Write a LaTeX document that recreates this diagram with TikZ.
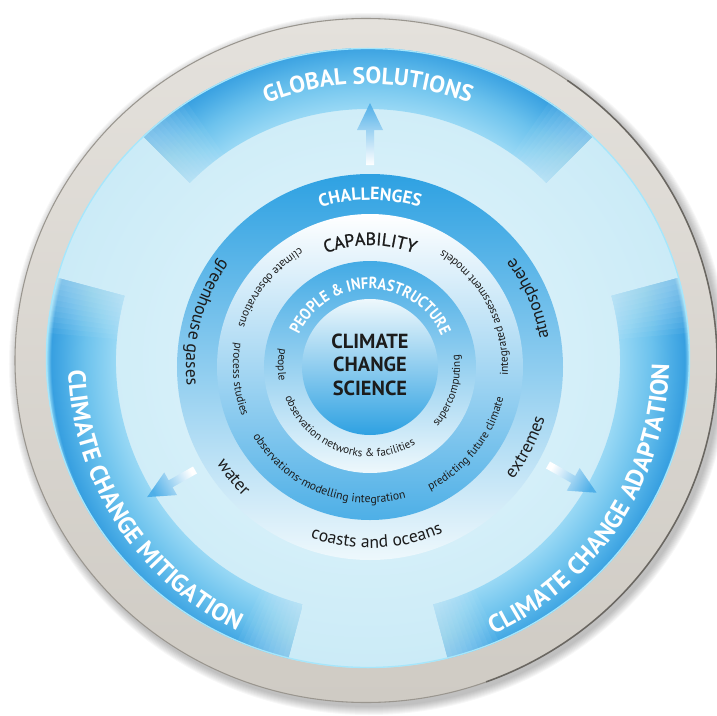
\documentclass[tikz,border=0pt]{standalone}
\usepackage{fontspec}
\setmainfont{PT Sans}
\newfontfamily\semibold[FakeBold=1.2]{PT Sans}
\newfontfamily\narrowbold[FakeStretch=0.88]{PT Sans Bold}
\usetikzlibrary{decorations.text}

% palette
\definecolor{rimlight}{HTML}{E4E1DC}
\definecolor{rimdark}{HTML}{CFCBC4}
\definecolor{rimedge}{HTML}{9A968F}
\definecolor{rimshade}{HTML}{55524D}
\definecolor{paleA}{HTML}{E4F6FC}
\definecolor{paleB}{HTML}{CBEBF7}
\definecolor{bandin}{HTML}{9AD9F5}
\definecolor{bandmid}{HTML}{6CC2ED}
\definecolor{bandout}{HTML}{48ABE5}
\definecolor{bandedge}{HTML}{379FE0}
\definecolor{bandglow}{HTML}{A6E6FB}
\definecolor{deepblue}{HTML}{2EA1E2}
\definecolor{midblue}{HTML}{7FC8EE}
\definecolor{softwhite}{HTML}{EEF8FC}
\definecolor{arrowblue}{HTML}{4FAFE8}
\definecolor{ink}{HTML}{1C1C1C}

% radial profile of the outer solution bands (25bp = outer edge)
\pgfdeclareradialshading{bandshade}{\pgfpoint{0bp}{0bp}}{%
  color(0bp)=(bandin); color(19.5bp)=(bandin); color(22bp)=(bandmid);
  color(23.7bp)=(bandout); color(24.6bp)=(bandedge); color(25bp)=(bandglow);
  color(50bp)=(bandglow)}

% text on a circular arc: centre angle, baseline radius, half span, format, text
\newcommand\ccwlabel[5]{%
  \path[decorate,decoration={text along path,text align=center,
      text format delimiters={|}{|},text={|#4|#5}}]
    ({#1-#3}:#2) arc[start angle={#1-#3},end angle={#1+#3},radius=#2];}
\newcommand\cwlabel[5]{%
  \path[decorate,decoration={text along path,text align=center,
      text format delimiters={|}{|},text={|#4|#5}}]
    ({#1+#3}:#2) arc[start angle={#1+#3},end angle={#1-#3},radius=#2];}

% annular sector of the solution bands
\newcommand\bandsector[2]{%
  ({#1}:252) arc[start angle={#1},end angle={#2},radius=252] --
  ({#2}:340) arc[start angle={#2},end angle={#1},radius=340] -- cycle}

% broad arrow: tail x, tail y, direction, length
\newcommand\flatarrow[4]{%
  \shade[top color=arrowblue,bottom color=white,shading angle={#3-90},
         shift={(#1,#2)},rotate=#3]
    (0,-4) -- ({#4-27},-4) -- ({#4-27},-13) -- (#4,0) --
    ({#4-27},13) -- ({#4-27},4) -- (0,4) -- cycle;}

\begin{document}
\begin{tikzpicture}[x=0.75pt,y=0.75pt]
\useasboundingbox (-368,-354) rectangle (349,361);

% soft drop shadow of the plate
\foreach \k in {1,...,9}
  \fill[black,opacity=0.03] (1,-3) ellipse [x radius={351+\k}, y radius={342+\k}];

% grey rim
\shade[top color=rimlight,bottom color=rimdark,draw=rimedge,line width=0.8pt]
  (-2,0.5) ellipse [x radius=351, y radius=342];
\draw[rimshade,opacity=0.7,line width=1.2pt]
  (-2,0.5) ++(55:351 and 342) arc[start angle=55,end angle=-70,x radius=351,y radius=342];

% pale inner disc
\shade[inner color=paleA,outer color=paleB]
  (0,3) ellipse [x radius=322, y radius=310];

% outer solution bands, lighter towards their ends
\begin{scope}
  \clip (0,3) ellipse [x radius=322, y radius=310];
  \foreach \a/\b in {45/135, 165/255, 285/375}{
    \begin{scope}
      \clip \bandsector{\a}{\b};
      \shade[shading=bandshade] (0,0) circle (322);
    \end{scope}
    \foreach \k in {1,...,10}{
      \fill[paleA,opacity=0.06] \bandsector{\a}{\a+\k};
      \fill[paleA,opacity=0.06] \bandsector{\b-\k}{\b};
    }
  }
\end{scope}
\draw[bandglow,line width=1pt] (0,3) ellipse [x radius=321.5, y radius=309.5];

% arrows towards the solutions
\flatarrow{2}{196}{90}{62}
\flatarrow{-173}{-109}{209.5}{55}
\flatarrow{180}{-104}{-29.7}{56}

% outer band titles
\cwlabel{90}{277}{70}{\color{white}\bfseries\fontsize{17.7}{20}\selectfont}{GLOBAL SOLUTIONS}
\ccwlabel{213}{300}{75}{\color{white}\bfseries\fontsize{18.4}{20}\selectfont}{CLIMATE CHANGE MITIGATION}
\ccwlabel{327}{301}{75}{\color{white}\bfseries\fontsize{18.6}{20}\selectfont}{CLIMATE CHANGE ADAPTATION}

% concentric rings around the core
\begin{scope}[shift={(2,-6)}]
\shade[top color=deepblue,middle color=midblue,bottom color=softwhite] (0,0) circle (193);
\shade[top color=white,middle color=softwhite!60!midblue,bottom color=deepblue!85!white] (0,0) circle (153);
\shade[top color=deepblue!90!white,middle color=midblue,bottom color=softwhite] (0,0) circle (106);
\shade[top color=softwhite,middle color=midblue,bottom color=deepblue] (0,0) circle (68);

% core
\node[name=core,align=center,text=ink,font=\bfseries\fontsize{15.3}{17.6}\selectfont]
  at (0,2.5) {CLIMATE\\CHANGE\\SCIENCE};

% challenges ring
\cwlabel{90}{167}{60}{\color{white}\bfseries\fontsize{13.3}{15}\selectfont}{CHALLENGES}
\ccwlabel{164.8}{184}{50}{\color{ink}\fontsize{13.2}{15}\selectfont}{greenhouse gases}
\ccwlabel{23.4}{181}{50}{\color{ink}\fontsize{13.2}{15}\selectfont}{atmosphere}
\ccwlabel{332.8}{182}{50}{\color{ink}\fontsize{13.2}{15}\selectfont}{extremes}
\ccwlabel{218.9}{181}{50}{\color{ink}\fontsize{13.2}{15}\selectfont}{water}
\ccwlabel{272.3}{181}{50}{\color{ink}\fontsize{13.2}{15}\selectfont}{coasts and oceans}

% capability ring
\cwlabel{90}{122}{60}{\color{ink}\semibold\fontsize{13.3}{15}\selectfont}{CAPABILITY}
\ccwlabel{141.5}{138}{60}{\color{ink}\fontsize{8.6}{10}\selectfont}{climate observations}
\ccwlabel{27.3}{138}{60}{\color{ink}\fontsize{8.6}{10}\selectfont}{integrated assessment models}
\ccwlabel{185.4}{137}{60}{\color{ink}\fontsize{8.6}{10}\selectfont}{process studies}
\ccwlabel{248}{136}{60}{\color{ink}\fontsize{8.8}{10}\selectfont}{observations-modelling integration}
\ccwlabel{321.5}{137}{60}{\color{ink}\fontsize{8.6}{10}\selectfont}{predicting future climate}

% people and infrastructure ring
\cwlabel{89.6}{78}{100}{\color{white}\narrowbold\fontsize{12.2}{14}\selectfont}{PEOPLE {\&} INFRASTRUCTURE}
\ccwlabel{178.5}{92}{80}{\color{ink}\fontsize{8.4}{10}\selectfont}{people}
\ccwlabel{250}{90}{80}{\color{ink}\fontsize{8.4}{10}\selectfont}{observation networks {\&} facilities}
\ccwlabel{343}{90}{80}{\color{ink}\fontsize{8.4}{10}\selectfont}{supercomputing}
\end{scope}
\end{tikzpicture}
\end{document}
